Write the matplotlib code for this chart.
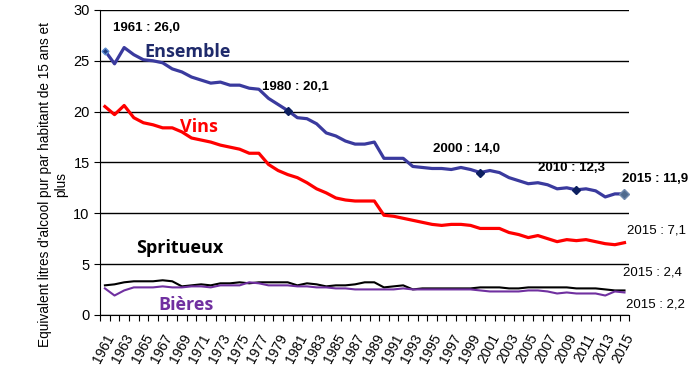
import numpy as np
import matplotlib
matplotlib.use("Agg")
from matplotlib import pyplot as plt

plt.rcParams['font.family'] = ['Liberation Sans', 'DejaVu Sans']

years = np.arange(1961, 2016)

ensemble = [26.0, 24.7, 26.3, 25.6, 25.1, 25.0, 24.8, 24.2, 23.9, 23.4,
            23.1, 22.8, 22.9, 22.6, 22.6, 22.3, 22.2, 21.3, 20.7, 20.1,
            19.4, 19.3, 18.8, 17.9, 17.6, 17.1, 16.8, 16.8, 17.0, 15.4,
            15.4, 15.4, 14.6, 14.5, 14.4, 14.4, 14.3, 14.5, 14.3, 14.0,
            14.2, 14.0, 13.5, 13.2, 12.9, 13.0, 12.8, 12.4, 12.5, 12.3,
            12.4, 12.2, 11.6, 11.9, 11.9]

vins = [20.5, 19.7, 20.6, 19.4, 18.9, 18.7, 18.4, 18.4, 18.0, 17.4,
        17.2, 17.0, 16.7, 16.5, 16.3, 15.9, 15.9, 14.8, 14.2, 13.8,
        13.5, 13.0, 12.4, 12.0, 11.5, 11.3, 11.2, 11.2, 11.2, 9.8,
        9.7, 9.5, 9.3, 9.1, 8.9, 8.8, 8.9, 8.9, 8.8, 8.5,
        8.5, 8.5, 8.1, 7.9, 7.6, 7.8, 7.5, 7.2, 7.4, 7.3,
        7.4, 7.2, 7.0, 6.9, 7.1]

spiritueux = [2.9, 3.0, 3.2, 3.3, 3.3, 3.3, 3.4, 3.3, 2.8, 2.9,
              3.0, 2.9, 3.1, 3.1, 3.2, 3.1, 3.2, 3.2, 3.2, 3.2,
              2.9, 3.1, 3.0, 2.8, 2.9, 2.9, 3.0, 3.2, 3.2, 2.7,
              2.8, 2.9, 2.5, 2.6, 2.6, 2.6, 2.6, 2.6, 2.6, 2.7,
              2.7, 2.7, 2.6, 2.6, 2.7, 2.7, 2.7, 2.7, 2.7, 2.6,
              2.6, 2.6, 2.5, 2.4, 2.4]

bieres = [2.6, 1.9, 2.4, 2.7, 2.7, 2.7, 2.8, 2.7, 2.7, 2.8,
          2.8, 2.7, 2.9, 2.9, 2.9, 3.2, 3.1, 2.9, 2.9, 2.9,
          2.8, 2.8, 2.7, 2.7, 2.6, 2.6, 2.5, 2.5, 2.5, 2.5,
          2.5, 2.6, 2.5, 2.5, 2.5, 2.5, 2.5, 2.5, 2.5, 2.4,
          2.3, 2.3, 2.3, 2.3, 2.4, 2.4, 2.3, 2.1, 2.2, 2.1,
          2.1, 2.1, 1.9, 2.3, 2.2]

marked_years = [1980, 2000, 2010]
marked_labels = ["1980 : 20,1", "2000 : 14,0", "2010 : 12,3"]

fig = plt.figure(figsize=(7, 3.83), dpi=100)
ax = fig.add_axes([0.143, 0.178, 0.756, 0.796])

ax.plot(years, ensemble, color="#3A3A9E", lw=2.3, zorder=4)
ax.plot(years, vins, color="#FF0000", lw=2.3, zorder=4)
ax.plot(years, spiritueux, color="black", lw=1.5, zorder=3)
ax.plot(years, bieres, color="#7030A0", lw=1.5, zorder=3)

idx = [list(years).index(y) for y in marked_years]
ax.plot(marked_years, [ensemble[i] for i in idx], "D", color="#0C1F60", ms=4.5, zorder=5)
ax.plot([1961], [ensemble[0]], "D", color="#1F3A80", mec="#5B8BD0", ms=3.5, zorder=5)
ax.plot([2015], [ensemble[-1]], "D", color="#4E6A8E", mec="#6F8AAE", ms=5, zorder=5)

ax.set_xlim(1960.5, 2015.5)
ax.set_ylim(0, 30)
ax.set_yticks(np.arange(0, 31, 5))
ax.yaxis.grid(True, color="black", lw=1)
ax.set_axisbelow(True)
for s in ["top", "right"]:
    ax.spines[s].set_visible(False)
ax.spines["left"].set_color("black")
ax.spines["bottom"].set_color("black")

ax.set_xticks(years[::2])
ax.set_xticklabels([str(y) for y in years[::2]], rotation=62, ha="right",
                   rotation_mode="anchor", fontsize=10)
ax.set_xticks(np.arange(1960.5, 2016, 1), minor=True)
ax.tick_params(axis="x", which="major", length=0, pad=12)
ax.tick_params(axis="x", which="minor", length=4, width=0.8)
ax.tick_params(axis="y", length=4, labelsize=10.5)

ax.set_ylabel("Equivalent litres d'alcool pur par habitant de 15 ans et\nplus",
              fontsize=9.8)
ax.yaxis.set_label_coords(-0.06, 0.426)

bold = dict(fontsize=9.5, fontweight="bold", va="center")
ax.text(1961.8, 28.2, "1961 : 26,0", **bold)
for (x, y), lab in zip([(1977.3, 22.4), (1995.1, 16.3), (2006.0, 14.45)], marked_labels):
    ax.text(x, y, lab, **bold)
ax.text(2014.7, 13.4, "2015 : 11,9", **bold)

big = dict(fontsize=13, fontweight="bold", va="center", family=["Open Sans", "DejaVu Sans"])
ax.text(1965.1, 25.9, "Ensemble", color="#1F2A6B", **big)
ax.text(1968.8, 18.5, "Vins", color="#FF0000", **big)
ax.text(1964.2, 6.6, "Spritueux", color="black", **big)
ax.text(1966.6, 1.0, "Bières", color="#7030A0", **big)

ax.text(2015.3, 8.26, "2015 : 7,1", fontsize=9.5, va="center")
ax.text(2014.8, 4.13, "2015 : 2,4", fontsize=9.5, va="center")
ax.text(2015.2, 0.98, "2015 : 2,2", fontsize=9.5, va="center")

fig.savefig("out.png", dpi=100)
